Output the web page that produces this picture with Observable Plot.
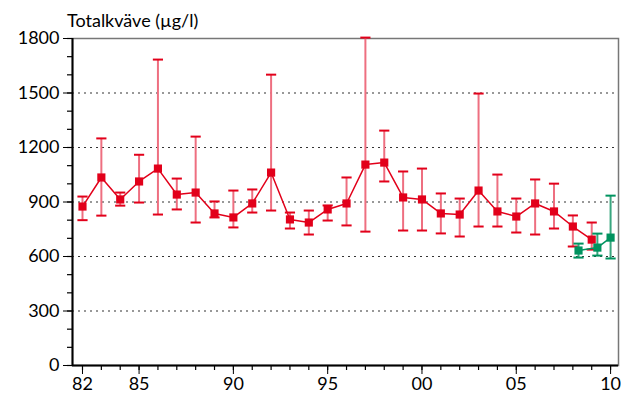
<!DOCTYPE html>
<html><head><meta charset="utf-8">
<script src="https://cdn.jsdelivr.net/npm/d3@7"></script>
<script src="https://cdn.jsdelivr.net/npm/@observablehq/plot@0.6"></script>
<style>
body{margin:0;background:#fff;font-family:Lato,"DejaVu Sans",sans-serif}
#title{position:absolute;left:67px;top:8px;font-size:18px;line-height:24px;color:#000;z-index:2}
#chart{padding-top:14px}
</style></head><body>
<div id="title">Totalkväve (µg/l)</div>
<div id="chart"></div>
<script>
const years = [1982,1983,1984,1985,1986,1987,1988,1989,1990,1991,1992,1993,1994,1995,1996,1997,1998,1999,2000,2001,2002,2003,2004,2005,2006,2007,2008,2009];
const mean = [875,1035,914,1013,1084,941,952,837,815,892,1062,804,787,859,892,1106,1117,925,914,837,831,963,848,820,892,848,765,693];
const hi = [930,1250,952,1160,1684,1029,1260,903,963,969,1601,842,853,881,1035,1805,1293,1068,1084,947,919,1497,1051,919,1024,1001,826,787];
const lo = [800,825,880,897,831,859,787,815,760,842,853,754,721,798,771,737,1013,743,743,727,710,765,765,732,721,754,655,638];
const gYears = [2008.3,2009.3,2010];
const gMean = [633,649,704];
const gHi = [671,726,935];
const gLo = [594,605,589];
const xTicks = [1982,1985,1990,1995,2000,2005,2010];
const xLabels = ["82","85","90","95","00","05","10"];
const yTicks = [0,300,600,900,1200,1500,1800];

const red = years.map((x,i)=>({x,m:mean[i],h:hi[i],l:lo[i]}));
const green = gYears.map((x,i)=>({x,m:gMean[i],h:gHi[i],l:gLo[i]}));
const R="#e2001a", G="#00935f", cap=0.27;
const series=(d,c,stem)=>[
  Plot.ruleX(d,{x:"x",y1:"l",y2:"h",stroke:stem,strokeWidth:2}),
  Plot.link(d,{x1:v=>v.x-cap,x2:v=>v.x+cap,y1:"h",y2:"h",stroke:c,strokeWidth:2}),
  Plot.link(d,{x1:v=>v.x-cap,x2:v=>v.x+cap,y1:"l",y2:"l",stroke:c,strokeWidth:2}),
  Plot.line(d,{x:"x",y:"m",stroke:c,strokeWidth:1.5}),
  Plot.dot(d,{x:"x",y:"m",symbol:"square",r:4.6,fill:c,stroke:"none"})
];
const chart = Plot.plot({
  width:621,height:389,marginTop:24,marginLeft:72,marginRight:3,marginBottom:38,
  style:{fontFamily:"Lato,'DejaVu Sans',sans-serif",fontSize:"18px",color:"#000",background:"transparent"},
  x:{domain:[1981.47,2010.42]},
  y:{domain:[0,1800]},
  marks:[
    Plot.ruleY([300,600,900,1200,1500],{stroke:"#333",strokeDasharray:"2,4",strokeWidth:1.2}),
    Plot.frame({stroke:"#777",strokeWidth:1.5}),
    Plot.axisY(d3.range(0,1801,100),{tickSize:5,label:null,text:null,strokeWidth:1.2}),
    Plot.axisY(yTicks,{tickSize:9,label:null,tickPadding:4,fontSize:18,tickFormat:d=>String(d)}),
    Plot.axisX(d3.range(1982,2011),{tickSize:5,label:null,text:null,strokeWidth:1.2}),
    Plot.axisX(xTicks,{tickSize:9,label:null,tickFormat:(d,i)=>xLabels[i],tickPadding:3,fontSize:18}),
    Plot.ruleX([1981.47],{stroke:"#000",strokeWidth:2}),
    Plot.ruleY([0],{stroke:"#000",strokeWidth:2}),
    ...series(red,R,"#ee6f80"),
    ...series(green,G,"#3aa67f")
  ]
});
d3.select("#chart").append(()=>chart);
</script></body></html>
